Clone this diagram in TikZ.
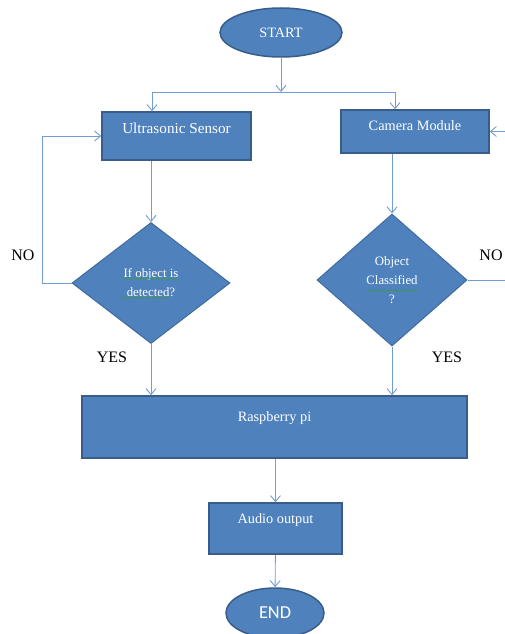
\documentclass[tikz,border=0pt]{standalone}
\usepackage{fontspec}
\setmainfont{Liberation Serif}
\newfontfamily\endfont{Carlito}
\usetikzlibrary{arrows.meta,shapes.geometric,decorations.pathmorphing}
\definecolor{boxblue}{HTML}{4F81BD}
\definecolor{boxedge}{HTML}{385D8A}
\definecolor{linkblue}{HTML}{739DD2}
\definecolor{spellgreen}{HTML}{3C9A4A}

\begin{document}
\begin{tikzpicture}[x=1pt, y=-1pt,
  block/.style={draw=boxedge, line width=1.5pt, fill=boxblue, text=white, inner sep=0pt,
    font=\fontsize{14.3}{17}\selectfont},
  terminal/.style={block, ellipse},
  decision/.style={diamond, draw=boxedge!60!boxblue, line width=1pt, fill=boxblue, text=white,
    inner sep=0pt, align=center, font=\fontsize{12.8}{19}\selectfont},
  link/.style={draw=linkblue, line width=0.9pt, -{Straight Barb[length=6pt,width=10pt]}},
  plainlink/.style={draw=linkblue, line width=0.9pt},
  answer/.style={font=\fontsize{16}{18}\selectfont},
  squiggle/.style={draw=spellgreen, line width=0.6pt,
    decorate, decoration={snake, amplitude=0.7pt, segment length=3pt}}]
\useasboundingbox (0,0) rectangle (504,634);

\node[terminal, minimum width=122, minimum height=49] (start) at (281,32.5) {START};
\node[block, minimum width=149, minimum height=48, text depth=15pt,
  font=\fontsize{15.2}{17}\selectfont] (sensor) at (176.5,136) {Ultrasonic Sensor};
\node[block, minimum width=148, minimum height=43, text depth=12pt] (camera) at (415,131.5) {Camera Module};
\node[decision, minimum width=158, minimum height=121] (detect) at (151,283) {If object is\\detected?};
\node[decision, minimum width=150, minimum height=132] (classify) at (392,280) {Object\\Classified\\?};
\node[block, minimum width=385, minimum height=62, text depth=21pt] (rpi) at (274.5,427) {Raspberry pi};
\node[block, minimum width=133, minimum height=51, text depth=20pt] (audio) at (275.5,528.5) {Audio output};
\node[terminal, minimum width=98, minimum height=50, font=\endfont\fontsize{18.3}{20}\selectfont] (end) at (275,613) {END};

% labels on the branches
\node[answer] (noleft) at (23,255) {NO};
\node[answer] (noright) at (491,255) {NO};
\node[answer] (yesleft) at (112,357) {YES};
\node[answer] (yesright) at (447,357) {YES};

% split after start
\coordinate (split) at (281,92);
\coordinate (splitleft) at (152,92);
\coordinate (splitright) at (395,92);
\draw[link] (start) -- (split);
\draw[plainlink] (splitleft) -- (splitright);
\draw[link] (splitleft) -- (splitleft |- sensor.north);
\draw[link] (splitright) -- (splitright |- camera.north);

% sensor side
\draw[link] (detect.north |- sensor.south) -- (detect.north);
\draw[link] (detect.west) -- ++(-29,0) |- (sensor.west); %NO loop
\draw[link] (detect.south) -- (detect.south |- rpi.north); %YES

% camera side
\draw[link] (classify.north |- camera.south) -- (classify.north);
\draw[link] (classify.east) -- ++(45,0) |- (camera.east); %NO loop
\draw[link] (classify.south) -- (classify.south |- rpi.north); %YES

% output
\draw[link] (rpi.south -| audio.north) -- (audio.north);
\draw[link] (audio) -- (end);

% spell check marks
\draw[squiggle] (122,278.5) -- (177,278.5);
\draw[squiggle] (122,297.5) -- (170,297.5);
\draw[squiggle] (367,290.5) -- (417,290.5);
\end{tikzpicture}
\end{document}
